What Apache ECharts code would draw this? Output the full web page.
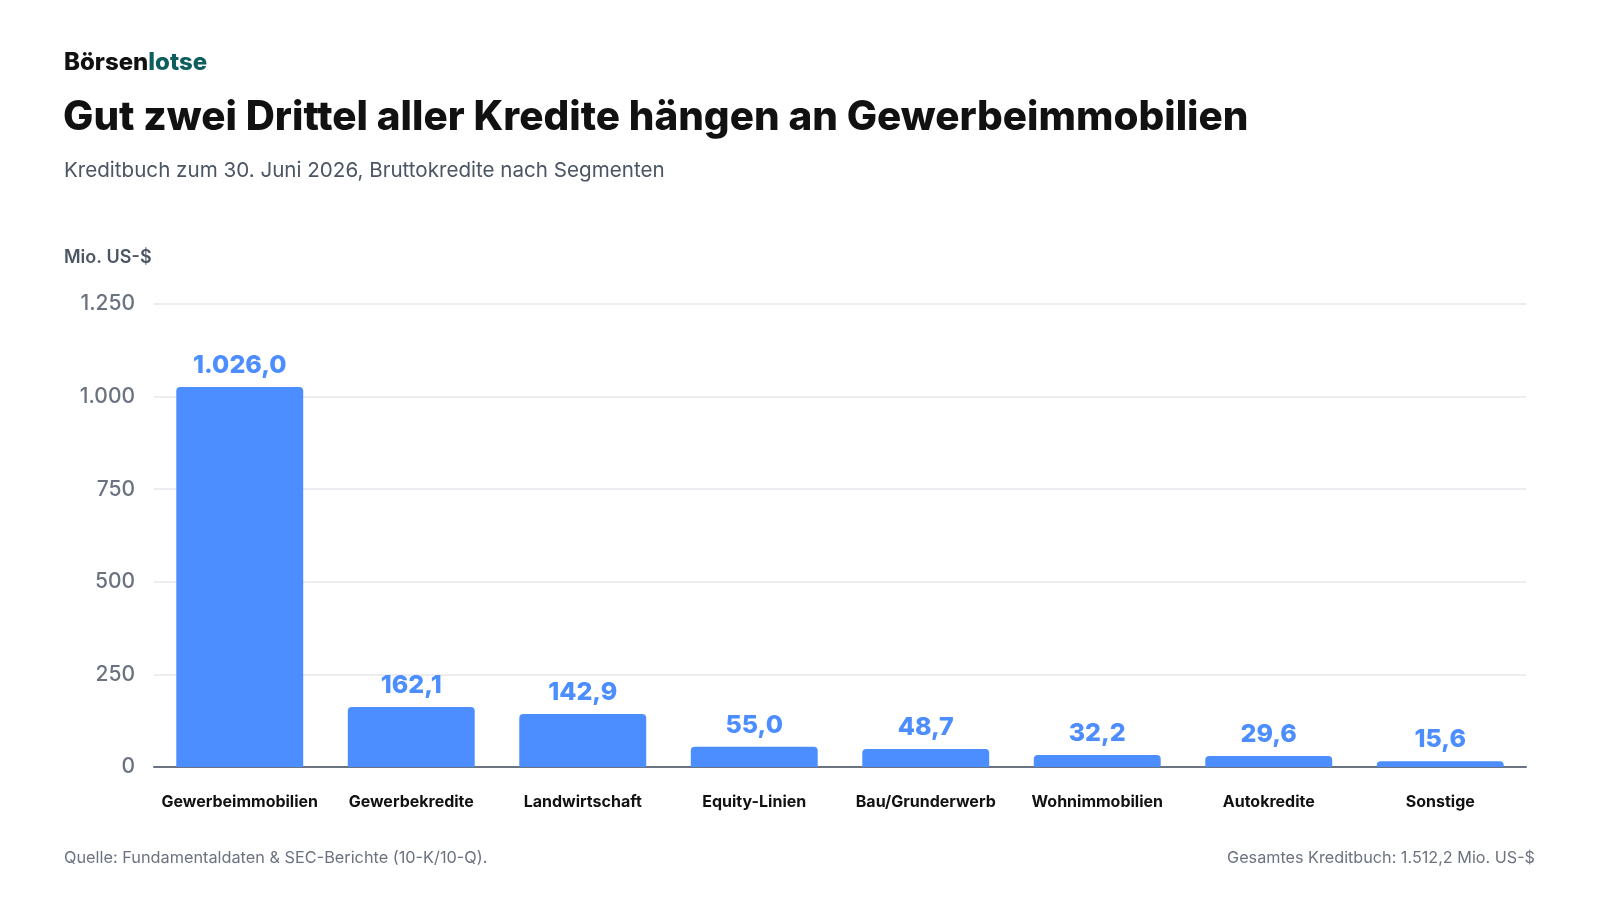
<!DOCTYPE html>
<html lang="de">
<head>
<meta charset="utf-8">
<title>Kreditbuch nach Segmenten</title>
<script src="https://cdn.jsdelivr.net/npm/echarts@6/dist/echarts.min.js"></script>
<style>
    html, body { margin: 0; padding: 0; background: #ffffff; }
    #chart { width: 1600px; height: 900px; }
</style>
</head>
<body>
<div id="chart"></div>
<script>
// Segmente und Bruttokredite (Mio. US-$)
const categories = ['Gewerbeimmobilien', 'Gewerbekredite', 'Landwirtschaft', 'Equity-Linien', 'Bau/Grunderwerb', 'Wohnimmobilien', 'Autokredite', 'Sonstige'];
const loanValues = [1026.0, 162.1, 142.9, 55.0, 48.7, 32.2, 29.6, 15.6];
const yTicks = [0, 250, 500, 750, 1000, 1250];

const FONT = 'Inter, "Noto Sans", sans-serif';
const BLUE = '#4c8dff';

function fmtDe(v, digits) {
    return v.toLocaleString('de-DE', { minimumFractionDigits: digits, maximumFractionDigits: digits });
}

document.addEventListener('DOMContentLoaded', function() {
    const chart = echarts.init(document.getElementById('chart'));

    const option = {
        animation: false,
        backgroundColor: '#ffffff',
        textStyle: { fontFamily: FONT },
        grid: { left: 154, right: 74, top: 304, bottom: 133 },
        xAxis: {
            type: 'category',
            data: categories,
            axisTick: { show: false },
            axisLine: { lineStyle: { color: '#6b7280', width: 2 } },
            axisLabel: {
                interval: 0,
                color: '#111111',
                fontSize: 16,
                fontWeight: 700,
                fontFamily: FONT,
                margin: 27
            }
        },
        yAxis: {
            type: 'value',
            min: yTicks[0],
            max: yTicks[yTicks.length - 1],
            interval: 250,
            axisLine: { show: false },
            axisTick: { show: false },
            splitLine: { lineStyle: { color: '#e5e7eb', width: 1.5 } },
            axisLabel: {
                color: '#6b7280',
                fontSize: 21,
                fontWeight: 500,
                fontFamily: FONT,
                margin: 19,
                formatter: function(v) { return fmtDe(v, 0); }
            }
        },
        series: [
            {
                type: 'bar',
                data: loanValues,
                barCategoryGap: '26%',
                itemStyle: { color: BLUE, borderRadius: [4, 4, 0, 0] },
                label: {
                    show: true,
                    position: 'top',
                    distance: 9,
                    color: BLUE,
                    fontSize: 25,
                    fontWeight: 800,
                    fontFamily: FONT,
                    formatter: function(p) { return fmtDe(p.value, 1); }
                }
            }
        ],
        graphic: [
            {
                type: 'text', left: 64, top: 51,
                style: {
                    text: '{a|Börsen}{b|lotse}',
                    rich: {
                        a: { fontSize: 24, fontWeight: 800, fill: '#111111', fontFamily: FONT },
                        b: { fontSize: 24, fontWeight: 800, fill: '#0f5e5e', fontFamily: FONT }
                    }
                }
            },
            {
                type: 'text', left: 63, top: 98,
                style: {
                    text: 'Gut zwei Drittel aller Kredite hängen an Gewerbeimmobilien',
                    fontSize: 40.4, fontWeight: 800, fill: '#111111', fontFamily: FONT
                }
            },
            {
                type: 'text', left: 64, top: 160,
                style: {
                    text: 'Kreditbuch zum 30. Juni 2026, Bruttokredite nach Segmenten',
                    fontSize: 20.6, fill: '#4b5563', fontFamily: FONT
                }
            },
            {
                type: 'text', left: 64, top: 249,
                style: {
                    text: 'Mio. US-$',
                    fontSize: 18, fontWeight: 600, fill: '#4b5563', fontFamily: FONT
                }
            },
            {
                type: 'text', left: 64, top: 850,
                style: {
                    text: 'Quelle: Fundamentaldaten & SEC-Berichte (10-K/10-Q).',
                    fontSize: 16.3, fill: '#6b7280', fontFamily: FONT
                }
            },
            {
                type: 'text', right: 65, top: 850,
                style: {
                    text: 'Gesamtes Kreditbuch: 1.512,2 Mio. US-$',
                    fontSize: 16.2, fill: '#6b7280', fontFamily: FONT
                }
            }
        ]
    };

    chart.setOption(option);
    window.addEventListener('resize', function() {
        chart.resize();
    });
});
</script>
</body>
</html>
